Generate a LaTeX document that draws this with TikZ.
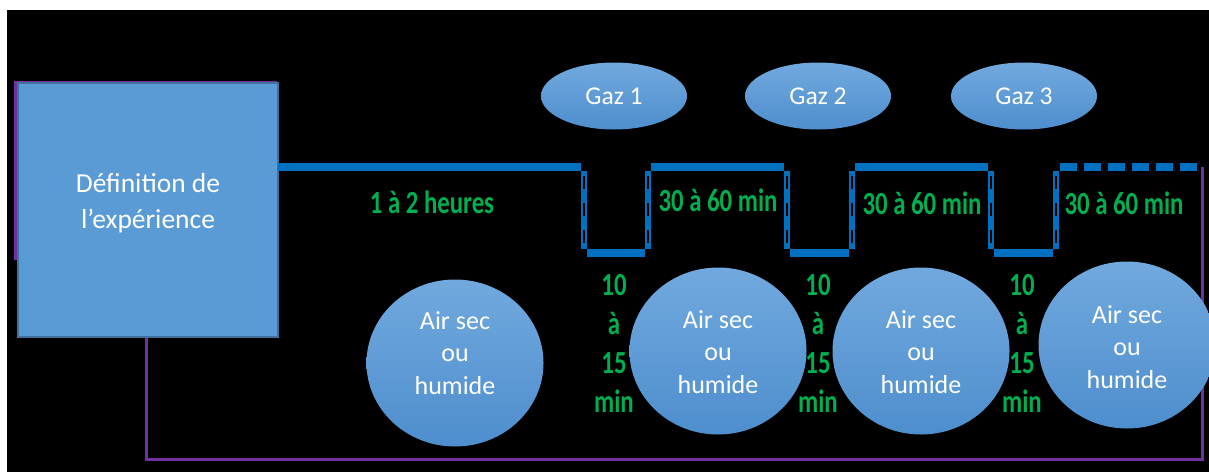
\documentclass[tikz,border=0pt]{standalone}
\usepackage{fontspec}
\setmainfont{Carlito}
\usetikzlibrary{shapes.geometric}
\definecolor{boxblue}{HTML}{5B9BD5}
\definecolor{boxedge}{HTML}{41719C}
\definecolor{wavec}{HTML}{0070C0}
\definecolor{purp}{HTML}{7030A0}
\definecolor{grn}{HTML}{00B050}
\definecolor{ltop}{HTML}{71A9DE}
\definecolor{lbot}{HTML}{4E8ECD}
\newcommand{\gs}[1]{\scalebox{1}[1.3]{#1}}
\begin{document}
\begin{tikzpicture}[x=1pt,y=-1pt,
  gaz/.style={ellipse, minimum width=146pt, minimum height=67pt, inner sep=0pt,
    top color=ltop, bottom color=lbot, text=white, font=\fontsize{25.6}{30}\selectfont},
  air/.style={ellipse, minimum width=177pt, minimum height=167pt, inner sep=0pt,
    top color=ltop, bottom color=lbot},
  airtxt/.style={text=white, align=center, inner sep=0pt, font=\fontsize{26}{32.5}\selectfont},
  glab/.style={text=grn, align=center, inner sep=0pt, font=\fontsize{24.8}{39}\selectfont\bfseries},
  wavel/.style={draw=wavec, line width=7.5pt},
  vwave/.style={draw=wavec, line width=6.5pt},
  sepl/.style={draw=black, line width=1.8pt, dash pattern=on 13pt off 14pt, dash phase=22pt},
  purpl/.style={draw=purp, line width=3pt}]
\useasboundingbox (0,0) rectangle (1209,472);
\fill[white] (0,0) rectangle (1209,472);
\fill[black] (7,10) rectangle (1209,472);

% purple loop (behind box)
\coordinate (pa) at (15,260);
\coordinate (pb) at (15,82);
\coordinate (pc) at (277,82);
\draw[purpl] (pa) -- (pb) -- (pc);

% main box
\node[draw=boxedge, fill=boxblue, line width=1.5pt, minimum width=260pt, minimum height=254pt, inner sep=0pt] (box) at (148,210) {};
\node[text=white, align=center, inner sep=0pt, font=\fontsize{27.5}{36}\selectfont] (boxt) at (148,203) {Définition de\\l’expérience};

\coordinate (pd) at (146,459);
\coordinate (pe) at (1202,459);
\coordinate (pf) at (1202,167);
\draw[purpl] (box.south -| pd) -- (pd) -- (pe) -- (pf);

% waveform
\coordinate (h0) at (278,167);
\coordinate (h1) at (584,167);
\coordinate (l1) at (584,253);
\coordinate (l2) at (648,253);
\coordinate (h2) at (648,167);
\coordinate (h3) at (787,167);
\coordinate (l3) at (787,253);
\coordinate (l4) at (852,253);
\coordinate (h4) at (852,167);
\coordinate (h5) at (991,167);
\coordinate (l5) at (991,253);
\coordinate (l6) at (1056,253);
\coordinate (h6) at (1056,167);
\coordinate (h7) at (1198,167);
\draw[wavel] (h0) -- ([xshift=-3pt]h1);
\draw[wavel] ([xshift=3pt]h2) -- ([xshift=-3pt]h3);
\draw[wavel] ([xshift=3pt]h4) -- ([xshift=-3pt]h5);
\draw[wavel, dash pattern=on 17pt off 7pt] ([xshift=4pt]h6) -- (h7);
\draw[wavel] ([xshift=3pt]l1) -- ([xshift=-3pt]l2);
\draw[wavel] ([xshift=3pt]l3) -- ([xshift=-3pt]l4);
\draw[wavel] ([xshift=3pt]l5) -- ([xshift=-3pt]l6);
\foreach \a/\b in {h1/l1,h2/l2,h3/l3,h4/l4,h5/l5,h6/l6}{
  \draw[vwave] ([yshift=-4pt]\a) -- ([yshift=4pt]\b);
  \draw[sepl] ([yshift=-4pt]\a) -- ([yshift=4pt]\b);
}

% gases
\node[gaz] (g1) at (614,96) {Gaz 1};
\node[gaz] (g2) at (818,96) {Gaz 2};
\node[gaz] (g3) at (1024,96) {Gaz 3};

% air circles
\node[air] (a1) at (455,363) {};
\node[air] (a2) at (718,351) {};
\node[air] (a3) at (921,351) {};
\node[air] (a4) at (1127,345) {};
\node[airtxt] (t1) at (455,353) {Air sec\\ou\\humide};
\node[airtxt] (t2) at (718,352) {Air sec\\ou\\humide};
\node[airtxt] (t3) at (921,352) {Air sec\\ou\\humide};
\node[airtxt] (t4) at (1127,347) {Air sec\\ou\\humide};

% green durations
\node[glab] (d0) at (432,202) {\gs{1 à 2 heures}};
\node[glab] (d1) at (718,200) {\gs{30 à 60 min}};
\node[glab] (d2) at (922,203) {\gs{30 à 60 min}};
\node[glab] (d3) at (1124,203) {\gs{30 à 60 min}};
\node[glab] (v1) at (614,343) {\gs{10}\\\gs{à}\\\gs{15}\\\gs{min}};
\node[glab] (v2) at (818,343) {\gs{10}\\\gs{à}\\\gs{15}\\\gs{min}};
\node[glab] (v3) at (1022,343) {\gs{10}\\\gs{à}\\\gs{15}\\\gs{min}};
\end{tikzpicture}
\end{document}
